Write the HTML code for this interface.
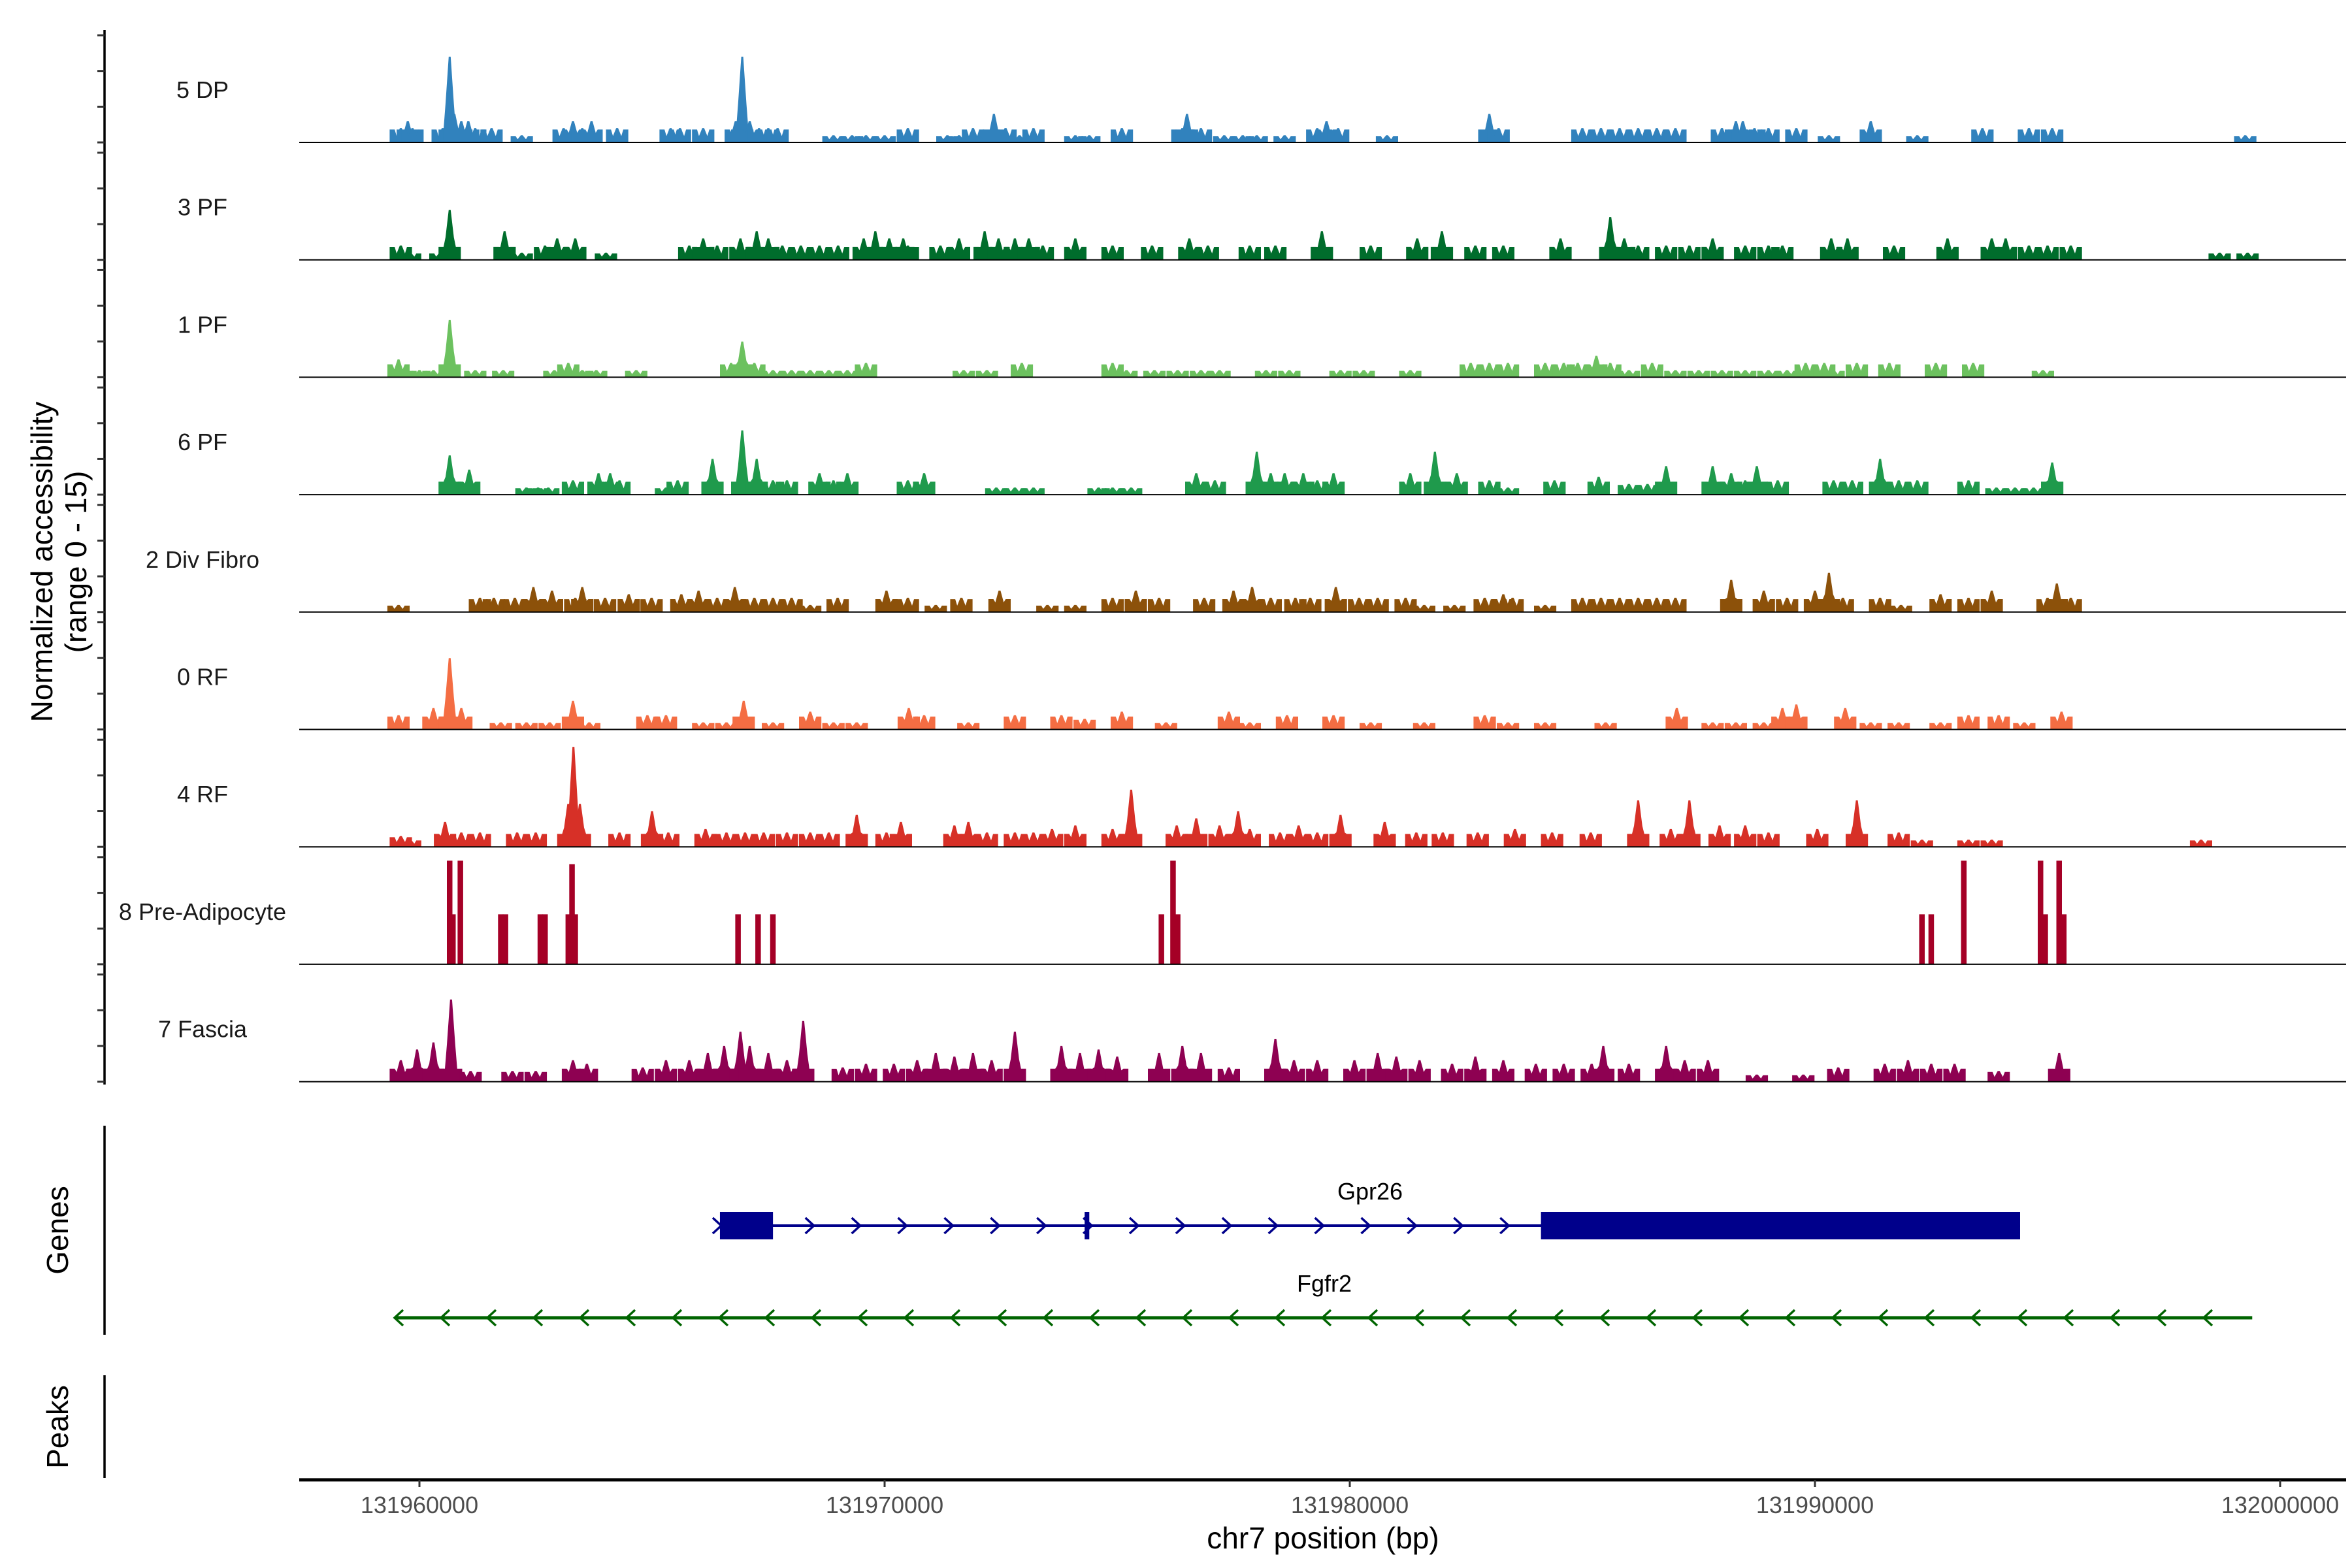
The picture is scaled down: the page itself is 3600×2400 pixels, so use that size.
<!DOCTYPE html>
<html><head><meta charset="utf-8"><style>
html,body{margin:0;padding:0;background:#fff;}
svg{display:block;font-family:"Liberation Sans",Arial,sans-serif;}
</style></head><body>
<svg id="chart" width="3600" height="2400" viewBox="0 0 3600 2400" xmlns="http://www.w3.org/2000/svg">
<g id="tracks"></g>
<g id="axes"></g>
<g id="genes"></g>
</svg>
<script>
// ---- data (positions in kb offset from 131,960,000; heights in normalized accessibility 0-15) ----
const trackNames = ["5 DP","3 PF","1 PF","6 PF","2 Div Fibro","0 RF","4 RF","8 Pre-Adipocyte","7 Fascia"];
const trackColors = ["#3182bd","#006d2c","#6cc15f","#1f9a4c","#8c510a","#f46d43","#d73027","#a50026","#8e0152"];

const pos5DP = [-0.4,-0.25,-0.15,0.5,0.65,0.75,0.9,1.05,1.2,1.55,2.2,3.1,3.3,3.5,3.7,4.25,5.4,5.6,6.1,6.8,6.94,7.1,7.3,7.5,7.7,8.9,9.3,9.6,10.0,10.5,11.35,11.6,11.9,12.2,12.35,12.6,12.9,13.2,14.1,14.4,15.1,16.4,16.5,16.8,17.3,17.7,18.0,18.6,19.3,19.5,19.75,20.8,23.0,23.2,25.0,25.4,25.8,26.2,26.6,27.0,28.0,28.3,28.45,28.7,29.0,29.6,30.3,31.2,32.2,33.6,34.6,35.1,39.25];
const val5DP = [2,3,2,2,12,4,3,3,2,2,1,2,3,2,3,2,2,2,2,3,12,3,2,2,2,1,1,1,1,2,1,1,2,1,4,2,1,2,1,1,2,2,4,2,1,1,1,1,2,3,2,1,4,2,2,2,2,2,2,2,2,3,3,2,2,2,1,3,1,2,2,2,1];

const pos3PF = [-0.4,-0.2,0.45,0.65,1.83,2.2,2.7,2.96,3.35,4.01,5.8,6.1,6.4,6.9,7.25,7.5,7.8,8.2,8.6,9.0,9.55,9.8,10.1,10.4,10.5,11.2,11.6,12.15,12.45,12.8,13.1,13.4,14.1,14.9,15.75,16.55,16.95,17.85,18.4,19.4,20.45,21.45,21.98,22.7,23.3,24.53,25.6,25.9,26.2,26.8,27.3,27.8,28.5,29.0,29.3,30.35,30.7,31.7,32.85,33.8,34.1,34.6,35.0,35.5,38.7,39.3];
const val3PF = [2,1,1,7,4,1,2,3,3,1,2,3,2,3,4,3,2,2,2,2,3,4,3,3,2,2,3,4,3,3,3,2,3,2,2,3,2,2,2,4,2,3,4,2,2,3,6,3,2,2,2,3,2,2,2,3,3,2,3,3,3,2,2,2,1,1];

const pos1PF = [-0.45,-0.3,0.0,0.3,0.65,1.2,1.8,2.9,3.2,3.5,3.8,4.66,6.7,6.94,7.2,7.6,8.0,8.4,8.8,9.2,9.6,11.7,12.2,12.95,14.9,15.2,15.8,16.3,16.8,17.2,18.2,18.7,19.8,20.3,21.3,22.6,23.0,23.4,24.2,24.6,24.9,25.3,25.6,26.0,26.5,27.0,27.5,28.0,28.5,29.0,29.4,29.8,30.2,30.4,30.9,31.6,32.6,33.4,34.9];
const val1PF = [2.5,1,1,1,8,1,1,1,2,1,1,1,2,5,2,1,1,1,1,1,2,1,1,2,2,1,1,1,1,1,1,1,1,1,1,2,2,2,2,2,2,3,2,1,2,1,1,1,1,1,1,2,2,1,2,2,2,2,1];

const pos6PF = [0.65,1.07,2.3,2.55,2.77,3.3,3.85,4.1,4.3,5.3,5.55,6.3,6.94,7.25,7.6,7.9,8.6,8.9,9.2,10.5,10.85,12.4,12.8,13.2,14.6,14.9,15.3,16.7,17.1,18.0,18.3,18.6,19.0,19.3,19.65,21.3,21.83,22.3,23.0,23.4,24.4,25.35,26.0,26.4,26.8,27.8,28.2,28.5,28.75,29.2,30.4,30.8,31.4,31.8,32.2,33.3,33.9,34.3,34.7,35.1];
const val6PF = [5.5,3.5,1,1,1,2,3,3,2,1,2,5,9,5,2,2,3,2,3,2,3,1,1,1,1,1,1,3,2,6,3,3,3,2,3,3,6,3,2,1,2,2.5,1.5,1.5,4,4,3,2,4,2,2,2,5,2,2,2,1,1,1,4.5];

const posDiv = [-0.45,1.3,1.6,2.05,2.45,2.85,3.35,3.5,3.99,4.5,4.99,5.63,6.0,6.4,6.78,7.2,7.6,8.0,8.4,8.99,10.04,10.5,11.1,11.65,12.47,13.5,14.1,14.9,15.4,15.9,16.87,17.5,17.9,18.3,18.83,19.15,19.7,20.2,20.6,21.2,21.6,22.25,22.9,23.3,23.5,24.2,25.0,25.4,25.8,26.2,26.6,27.0,28.2,28.9,29.4,30.0,30.3,30.6,31.4,31.85,32.7,33.3,33.8,35.0,35.2,35.5];
const valDiv = [1,2,2,2,3.5,3,2,3.5,2,2.5,2,2.5,3,2,3.5,2,2,2,1,2,3,2,1,2,3,1,1,2,3,2,2,3,3.5,2,2,2,3.5,2,2,2,1,1,2,2.5,2,1,2,2,2,2,2,2,4.5,3,2,3,5.5,2,2,1,2.5,2,3,2,4,2];

const pos0RF = [-0.45,0.3,0.65,0.9,1.75,2.3,2.8,3.3,3.65,4.9,5.3,6.1,6.6,6.97,7.6,8.4,8.9,9.4,10.52,10.85,11.8,12.8,13.8,14.3,15.1,16.05,17.4,17.85,18.65,19.65,20.45,21.6,22.9,23.4,24.2,25.5,27.03,27.8,28.3,28.9,29.3,29.6,30.65,31.2,31.8,32.7,33.3,33.95,34.5,35.3];
const val0RF = [2,3,10,3,1,1,1,4,1,2,2,1,1,4,1,2.5,1,1,3,2,1,2,2,1.5,2.5,1,2.5,1,2,2,1,1,2,1,1,1,3,1,1,1,3,3.5,3,1,1,1,2,2,1,2.5];

const pos4RF = [-0.4,-0.2,0.55,0.9,1.3,2.1,2.5,3.2,3.31,3.45,4.3,5.0,5.35,6.15,6.6,7.0,7.4,7.9,8.4,8.8,9.4,10.04,10.35,11.5,11.8,12.2,12.8,13.2,13.6,14.1,14.9,15.3,16.28,16.7,17.2,17.6,17.85,18.5,18.9,19.3,19.8,20.75,21.43,22.0,22.75,23.55,24.35,25.18,26.2,26.9,27.3,27.95,28.5,29.0,30.05,30.9,31.8,32.3,33.3,33.8,38.3];
const val4RF = [1.5,1,3.5,2,2,2,2,6,14,6,2,5,2,2.5,2,2,2,2,2,2,4.5,2,3.5,3,3.5,2,2,2,2.5,3,2.5,8,3,4,3,5,2.5,2,3,2,4.5,3.5,2,2,2,2.5,2,2,6.5,2.5,6.5,3,3,2,2.5,6.5,2,1,1,1,1];

const posPre = [0.65,0.72,0.88,1.75,1.85,2.6,2.7,3.2,3.28,3.35,6.85,7.28,7.6,15.95,16.2,16.3,32.3,32.5,33.2,34.85,34.95,35.25,35.35];
const valPre = [14.5,7,14.5,7,7,7,7,7,14,7,7,7,7,7,14.5,7,7,7,14.5,14.5,7,14.5,7];

const posFas = [-0.4,-0.05,0.3,0.68,1.1,2.0,2.5,3.3,3.6,4.8,5.3,5.8,6.2,6.55,6.9,7.1,7.5,7.9,8.25,9.1,9.6,10.2,10.7,11.1,11.5,11.9,12.3,12.8,13.8,14.2,14.6,15.0,15.9,16.4,16.8,17.4,18.4,18.8,19.3,20.1,20.6,21.0,21.5,22.2,22.7,23.3,24.0,24.6,25.2,25.45,26.0,26.8,27.2,27.7,28.75,29.75,30.5,31.5,32.0,32.5,33.0,33.95,35.25];
const valFas = [3,4.5,5.5,11.5,1.5,1.5,1.5,3,2.5,2,3,3,4,5,7,5,4,3,8.5,2,2.5,2.5,3,4,3.5,4,3,7,5,4,4.5,3.5,4,5,4,2,6,3,3,3,4,3.5,3,2.5,3.5,3,2.5,2.5,2.5,5,2.5,5,3,3,1,1,2,2.5,3,2.5,2.5,1.5,4];

const trackPos = [pos5DP,pos3PF,pos1PF,pos6PF,posDiv,pos0RF,pos4RF,posPre,posFas];
const trackVal = [val5DP,val3PF,val1PF,val6PF,valDiv,val0RF,val4RF,valPre,valFas];

const xTicks = [131960000,131970000,131980000,131990000,132000000];
const yRangeMax = 15;
const gpr26Span = [6.46, 34.41];
const gpr26Exons = [[6.46,7.6],[14.3,14.4],[24.11,34.41]];
const fgfr2Span = [-0.52, 39.4];

// ---- scales ----
const NS = "http://www.w3.org/2000/svg";
const X0 = 642, PXKB = 71.2;
function xs(kb){ return X0 + kb*PXKB; }
function xbp(bp){ return X0 + (bp-131960000)/1000*PXKB; }
const BASE0 = 218, TSTEP = 179.7, TH = 164;
function ys(i,v){ return BASE0 + TSTEP*i - v/yRangeMax*TH; }
function mk(tag, attrs, parent){
  const e = document.createElementNS(NS, tag);
  for (const k in attrs) e.setAttribute(k, attrs[k]);
  parent.appendChild(e); return e;
}
const gT = document.getElementById('tracks');
const gA = document.getElementById('axes');
const gG = document.getElementById('genes');

// ---- tracks ----
for (let i=0;i<trackNames.length;i++){
  const g = mk('g',{},gT);
  
  
  const base = ys(i,0);
  const pos = trackPos[i], val = trackVal[i];
  for (let j=0;j<pos.length;j++){
    const cx = xs(pos[j]), top = ys(i,val[j]);
    let el;
    if (i===7){
      const w = 0.12*PXKB;
      el = mk('rect',{x:(cx-w/2).toFixed(1), y:top.toFixed(1), width:w.toFixed(1), height:(base-top).toFixed(1), fill:trackColors[i]}, g);
    } else {
      const hw = 0.24*PXKB, sh = 0.09*PXKB;
      const h = base-top;
      const low = base - Math.min(h, 22)*0.9;
      const mid = base - h*0.45;
      const pts = [[cx-hw,base],[cx-hw,low],[cx-hw*0.55,low],[cx-sh,mid],[cx-1.5,top],[cx+1.5,top],[cx+sh,mid],[cx+hw*0.55,low],[cx+hw,low],[cx+hw,base]];
      el = mk('polygon',{points:pts.map(p=>p[0].toFixed(1)+','+p[1].toFixed(1)).join(' '), fill:trackColors[i]}, g);
    }
    
    
  }
  const bl = mk('line',{x1:458,x2:3591,y1:base,y2:base,stroke:'#000','stroke-width':2},g);
  
  
  const lb = mk('text',{x:310,y:(base-81+13).toFixed(1),'text-anchor':'middle','font-size':36,fill:'#1a1a1a'},g);
  lb.textContent = trackNames[i];
  
  
}

// ---- left y axis ----
const ya = mk('line',{x1:160,x2:160,y1:46,y2:1660,stroke:'#000','stroke-width':3.5},gA);


for (let i=0;i<trackNames.length;i++){
  for (let v=0; v<=yRangeMax; v+=5){
    const y = ys(i,v);
    const t = mk('line',{x1:149,x2:160,y1:y,y2:y,stroke:'#333','stroke-width':3},gA);
    
    
  }
}
const yt = mk('text',{transform:'translate(64,860) rotate(-90)','text-anchor':'middle','font-size':46,fill:'#000'},gA);


const t1 = mk('tspan',{x:0,y:16},yt); t1.textContent='Normalized accessibility';
const t2 = mk('tspan',{x:0,y:68},yt); t2.textContent='(range 0 - 15)';

// genes / peaks panel axes
const ga = mk('line',{x1:160,x2:160,y1:1723,y2:2043,stroke:'#000','stroke-width':3.5},gA);


const gt = mk('text',{transform:'translate(104,1883) rotate(-90)','text-anchor':'middle','font-size':46,fill:'#000'},gA);
gt.textContent='Genes';


const pa = mk('line',{x1:160,x2:160,y1:2105,y2:2262,stroke:'#000','stroke-width':3.5},gA);


const pt = mk('text',{transform:'translate(104,2184) rotate(-90)','text-anchor':'middle','font-size':46,fill:'#000'},gA);
pt.textContent='Peaks';



// ---- x axis ----
const xa = mk('line',{x1:458,x2:3591,y1:2265,y2:2265,stroke:'#000','stroke-width':5},gA);


xTicks.forEach(v=>{
  const x = xbp(v);
  const tk = mk('line',{x1:x,x2:x,y1:2265,y2:2276,stroke:'#333','stroke-width':3},gA);
  
  
  const tl = mk('text',{x:x,y:2316,'text-anchor':'middle','font-size':36,fill:'#4d4d4d'},gA);
  tl.textContent = String(v);
  
  
});
const xt = mk('text',{x:2025,y:2370,'text-anchor':'middle','font-size':46,fill:'#000'},gA);
xt.textContent='chr7 position (bp)';



// ---- genes ----
const gp = mk('g',{},gG);


const GC = '#00008b', FC = '#006400';
const GY = 1876, FY = 2017;
mk('line',{x1:xs(gpr26Span[0]),x2:xs(gpr26Span[1]),y1:GY,y2:GY,stroke:GC,'stroke-width':4},gp);
for (let x=xs(gpr26Span[0])+2; x<xs(gpr26Span[1]); x+=70.9){
  mk('polyline',{points:(x-13)+','+(GY-12)+' '+x+','+GY+' '+(x-13)+','+(GY+12),fill:'none',stroke:GC,'stroke-width':3.5},gp);
}
gpr26Exons.forEach(e=>{
  const r = mk('rect',{x:xs(e[0]),y:GY-21,width:Math.max(6,xs(e[1])-xs(e[0])),height:42,fill:GC},gp);
  
  
});
const gl = mk('text',{x:2097,y:1836,'text-anchor':'middle','font-size':36,fill:'#000'},gp);
gl.textContent='Gpr26';



const fg = mk('g',{},gG);


mk('line',{x1:xs(fgfr2Span[0]),x2:xs(fgfr2Span[1]),y1:FY,y2:FY,stroke:FC,'stroke-width':5},fg);
for (let x=xs(fgfr2Span[0])-1; x<xs(fgfr2Span[1])-40; x+=71){
  mk('polyline',{points:(x+13)+','+(FY-12)+' '+x+','+FY+' '+(x+13)+','+(FY+12),fill:'none',stroke:FC,'stroke-width':3.5},fg);
}
const fl = mk('text',{x:2027,y:1977,'text-anchor':'middle','font-size':36,fill:'#000'},fg);
fl.textContent='Fgfr2';


</script>
</body></html>
